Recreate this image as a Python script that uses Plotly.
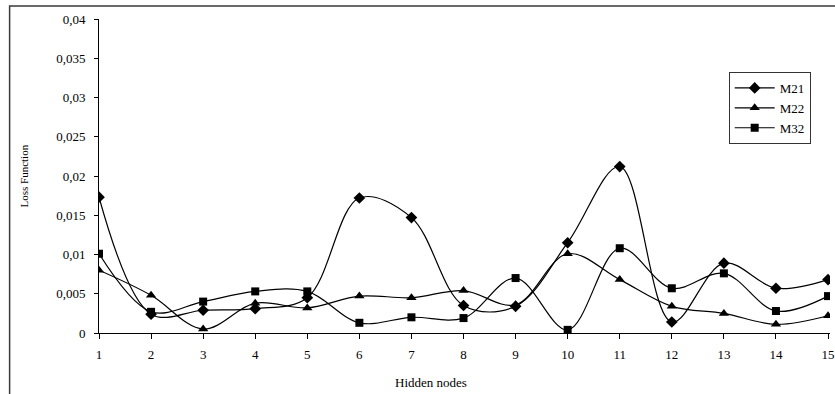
import plotly.graph_objects as go

hidden_nodes = list(range(1, 16))
m21 = [0.0173, 0.0024, 0.0029, 0.0031, 0.0045, 0.0172, 0.0147, 0.0035, 0.0034, 0.0115, 0.0212, 0.0014, 0.0089, 0.0057, 0.0068]
m22 = [0.0080, 0.0048, 0.0005, 0.0038, 0.0032, 0.0047, 0.0045, 0.0054, 0.0036, 0.0101, 0.0068, 0.0034, 0.0025, 0.0011, 0.0022]
m32 = [0.0101, 0.0027, 0.0040, 0.0053, 0.0053, 0.0013, 0.0020, 0.0019, 0.0070, 0.0004, 0.0108, 0.0057, 0.0076, 0.0028, 0.0047]
y_ticks = [0, 0.005, 0.01, 0.015, 0.02, 0.025, 0.03, 0.035, 0.04]
y_tick_text = ["0", "0,005", "0,01", "0,015", "0,02", "0,025", "0,03", "0,035", "0,04"]

W, H = 835, 394
L, T, B = 99, 19, 61
plot_w = W - L
plot_h = H - T - B
px_per_unit = 52.43

font_family = "Liberation Serif, Times New Roman, serif"

fig = go.Figure()
series = [("M21", m21, "diamond", 9), ("M22", m22, "triangle-up", 9), ("M32", m32, "square", 8)]
for name, vals, sym, sz in series:
    fig.add_trace(go.Scatter(
        x=hidden_nodes, y=vals, name=name, mode="lines+markers",
        line=dict(color="black", width=1.2, shape="spline", smoothing=1.0),
        marker=dict(symbol=sym, size=sz, color="black"),
    ))

def px_x(px):
    return (px - L) / plot_w

def px_y(py):
    return (H - B - py) / plot_h

fig.update_layout(
    width=W, height=H,
    margin=dict(l=L, r=0, t=T, b=B),
    paper_bgcolor="white", plot_bgcolor="white",
    font=dict(family=font_family, size=13, color="black"),
    showlegend=True,
    legend=dict(
        x=px_x(733), y=px_y(72), xanchor="left", yanchor="top",
        bgcolor="white", bordercolor="#333333", borderwidth=1,
        font=dict(family=font_family, size=13, color="black"),
        itemwidth=40, tracegroupgap=2,
    ),
    xaxis=dict(
        range=[1, 1 + plot_w / px_per_unit],
        tickmode="array", tickvals=hidden_nodes, ticktext=[str(v) for v in hidden_nodes],
        showgrid=False, zeroline=False,
        showline=True, linecolor="black", linewidth=1,
        ticks="outside", ticklen=5, tickcolor="black",
        ticklabelstandoff=4, ticklabeloverflow="allow",
        tickfont=dict(family=font_family, size=13),
    ),
    yaxis=dict(
        range=[0, 0.04],
        tickmode="array", tickvals=y_ticks, ticktext=y_tick_text,
        showgrid=False, zeroline=False,
        showline=True, linecolor="black", linewidth=1,
        ticks="outside", ticklen=4, tickcolor="black",
        ticklabelstandoff=6,
        tickfont=dict(family=font_family, size=13),
    ),
    annotations=[
        dict(text="Hidden nodes", xref="paper", yref="paper", x=px_x(433), y=px_y(382),
             xanchor="center", yanchor="middle", showarrow=False,
             font=dict(family=font_family, size=13)),
        dict(text="Loss Function", xref="paper", yref="paper", x=px_x(23), y=px_y(176),
             xanchor="center", yanchor="middle", showarrow=False, textangle=-90,
             font=dict(family=font_family, size=11)),
    ],
    shapes=[
        dict(type="rect", xref="paper", yref="paper",
             x0=px_x(9), x1=px_x(845), y0=px_y(404), y1=px_y(6),
             line=dict(color="#3a3a3a", width=1.5), fillcolor="rgba(0,0,0,0)", layer="below"),
    ],
)

fig.write_html("out.html")
